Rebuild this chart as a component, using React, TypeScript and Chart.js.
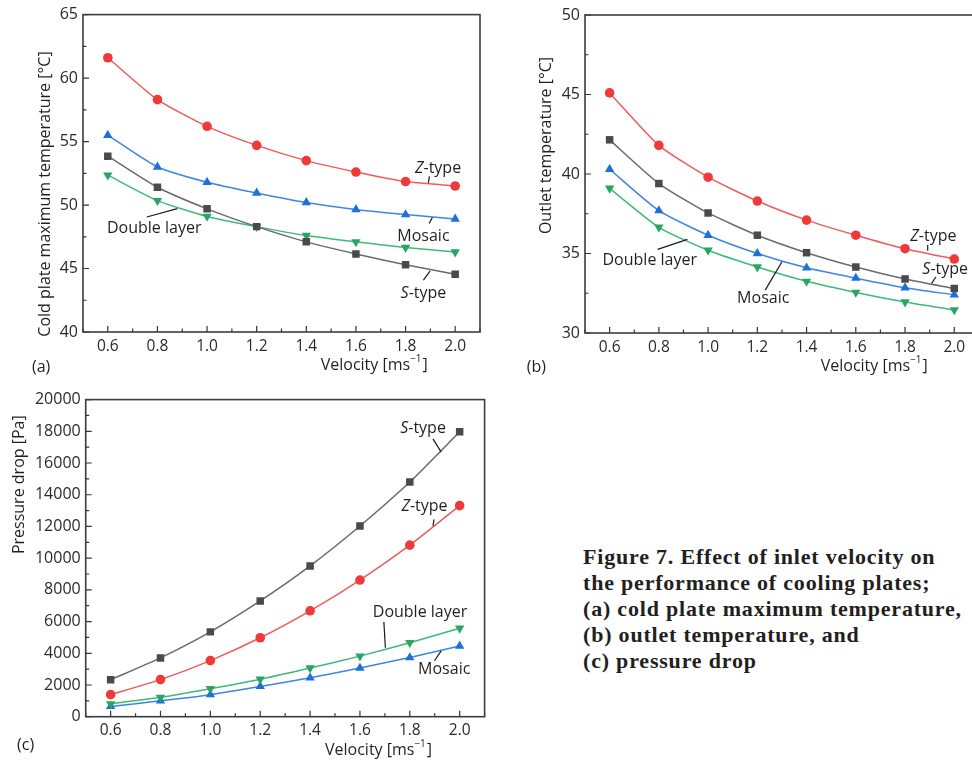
import React, { useEffect, useRef } from 'react';
import { Chart, registerables } from 'chart.js';
Chart.register(...registerables);

// ---------- data ----------
const VELOCITY = [0.6, 0.8, 1.0, 1.2, 1.4, 1.6, 1.8, 2.0];
const X_TICK_LABELS = [0.6, 0.8, 1.0, 1.2, 1.4, 1.6, 1.8, 2.0];

// (a) cold plate maximum temperature [°C]
const A_Z = [61.6, 58.3, 56.2, 54.7, 53.5, 52.6, 51.85, 51.5];
const A_MOSAIC = [55.5, 53.0, 51.8, 50.95, 50.2, 49.65, 49.25, 48.9];
const A_S = [53.85, 51.4, 49.7, 48.3, 47.1, 46.15, 45.3, 44.55];
const A_DOUBLE = [52.35, 50.35, 49.1, 48.3, 47.6, 47.1, 46.65, 46.3];

// (b) outlet temperature [°C]
const B_Z = [45.1, 41.8, 39.8, 38.3, 37.1, 36.15, 35.3, 34.65];
const B_S = [42.15, 39.4, 37.55, 36.15, 35.05, 34.15, 33.4, 32.8];
const B_MOSAIC = [40.3, 37.7, 36.15, 35.0, 34.1, 33.45, 32.85, 32.4];
const B_DOUBLE = [39.1, 36.65, 35.2, 34.15, 33.25, 32.55, 31.95, 31.45];

// (c) pressure drop [Pa]
const C_S = [2330, 3710, 5350, 7300, 9510, 12030, 14800, 17970];
const C_Z = [1390, 2340, 3540, 4980, 6680, 8620, 10820, 13310];
const C_DOUBLE = [810, 1220, 1760, 2360, 3070, 3820, 4670, 5580];
const C_MOSAIC = [650, 1000, 1390, 1910, 2450, 3070, 3730, 4460];

const CAPTION = [
  'Figure 7. Effect of inlet velocity on',
  'the performance of cooling plates;',
  '(a) cold plate maximum temperature,',
  '(b) outlet temperature, and',
  '(c) pressure drop',
];

// ---------- styles ----------
const FONT = '"Open Sans", "Noto Sans", sans-serif';
const TEXT = '#231f20';

const STYLE = {
  z: { line: '#f25a5a', point: '#f03a3a', pointStyle: 'circle', radius: 4.8, rotation: 0 },
  mosaic: { line: '#3d85e6', point: '#1e6fd9', pointStyle: 'triangle', radius: 5.4, rotation: 0 },
  s: { line: '#6a6a6a', point: '#4a4a4a', pointStyle: 'rect', radius: 5.3, rotation: 0 },
  dbl: { line: '#3dba78', point: '#2aa366', pointStyle: 'triangle', radius: 5.4, rotation: 180 },
};

type Seg = { t: string; italic?: boolean; sup?: boolean };
const ZT: Seg[] = [{ t: 'Z', italic: true }, { t: '-type' }];
const ST: Seg[] = [{ t: 'S', italic: true }, { t: '-type' }];
const MO: Seg[] = [{ t: 'Mosaic' }];
const DL: Seg[] = [{ t: 'Double layer' }];
const VEL: Seg[] = [{ t: 'Velocity [ms' }, { t: '−1', sup: true }, { t: ']' }];

function segFont(s: Seg, size: number) {
  return `${s.italic ? 'italic ' : ''}${s.sup ? size * 0.62 : size}px ${FONT}`;
}

function drawRich(ctx: CanvasRenderingContext2D, segs: Seg[], x: number, y: number, size: number, align: 'left' | 'center') {
  const widths = segs.map((s) => {
    ctx.font = segFont(s, size);
    return ctx.measureText(s.t).width;
  });
  const total = widths.reduce((a, b) => a + b, 0);
  let cx = align === 'center' ? x - total / 2 : x;
  ctx.textAlign = 'left';
  ctx.textBaseline = 'middle';
  segs.forEach((s, i) => {
    ctx.font = segFont(s, size);
    ctx.fillText(s.t, cx, s.sup ? y - size * 0.38 : y);
    cx += widths[i] + (s.sup ? 1 : 0);
  });
}

const framePlugin = {
  id: 'frame',
  afterDatasetsDraw(chart: any, _args: any, o: any) {
    const { ctx, chartArea: a, scales } = chart;
    const xs = scales.x;
    const ys = scales.y;
    ctx.save();
    // ticks (inward)
    ctx.strokeStyle = '#333';
    ctx.lineWidth = 1.2;
    ctx.beginPath();
    for (let k = 0; k <= 16; k++) {
      const v = 0.5 + k * 0.1;
      const major = k % 2 === 1;
      const px = xs.getPixelForValue(v);
      ctx.moveTo(px, a.bottom);
      ctx.lineTo(px, a.bottom - (major ? 6 : 3.5));
    }
    const n = Math.round((o.yMax - o.yMin) / o.yMinor);
    for (let k = 0; k <= n; k++) {
      const v = o.yMin + k * o.yMinor;
      const major = k % 2 === 0;
      const py = ys.getPixelForValue(v);
      ctx.moveTo(a.left, py);
      ctx.lineTo(a.left + (major ? 6 : 3.5), py);
    }
    ctx.stroke();
    // frame
    ctx.strokeStyle = '#3c3c3c';
    ctx.lineWidth = 1.6;
    ctx.strokeRect(a.left, a.top, a.right - a.left, a.bottom - a.top);

    ctx.fillStyle = TEXT;
    // annotations
    ctx.strokeStyle = '#1a1a1a';
    ctx.lineWidth = 1.2;
    o.notes.forEach((nt: any) => {
      drawRich(ctx, nt.segs, xs.getPixelForValue(nt.x), ys.getPixelForValue(nt.y), 16, 'center');
      ctx.beginPath();
      ctx.moveTo(xs.getPixelForValue(nt.line[0]), ys.getPixelForValue(nt.line[1]));
      ctx.lineTo(xs.getPixelForValue(nt.line[2]), ys.getPixelForValue(nt.line[3]));
      ctx.stroke();
    });
    // axis titles
    drawRich(ctx, VEL, o.xTitle.x, o.xTitle.y, 16, 'left');
    ctx.save();
    ctx.translate(o.yTitle.x, o.yTitle.y);
    ctx.rotate(-Math.PI / 2);
    drawRich(ctx, [{ t: o.yTitle.text }], 0, 0, 16, 'center');
    ctx.restore();
    // panel label
    drawRich(ctx, [{ t: o.label.text }], o.label.x, o.label.y, 16, 'left');
    ctx.restore();
  },
};

function makeSeries(label: string, values: number[], st: any) {
  return {
    label,
    data: VELOCITY.map((v, i) => ({ x: v, y: values[i] })),
    borderColor: st.line,
    backgroundColor: st.point,
    pointBackgroundColor: st.point,
    pointBorderColor: st.point,
    pointBorderWidth: 0,
    pointStyle: st.pointStyle,
    pointRadius: st.radius,
    pointRotation: st.rotation,
    borderWidth: 1.5,
    tension: 0.2,
    fill: false,
  };
}

function buildConfig(p: any): any {
  return {
    type: 'line',
    data: { datasets: p.series },
    plugins: [framePlugin],
    options: {
      responsive: false,
      animation: false,
      devicePixelRatio: 1,
      layout: { padding: { left: 0, top: p.padTop, right: p.padRight, bottom: 0 } },
      plugins: {
        legend: { display: false },
        tooltip: { enabled: false },
        frame: {
          yMin: p.yMin,
          yMax: p.yMax,
          yMinor: p.yMinor,
          notes: p.notes,
          xTitle: p.xTitle,
          yTitle: p.yTitle,
          label: p.label,
        },
      },
      scales: {
        x: {
          type: 'linear',
          min: 0.5,
          max: 2.1,
          grid: { display: false, drawTicks: false },
          border: { display: false },
          afterBuildTicks: (s: any) => {
            s.ticks = X_TICK_LABELS.map((v) => ({ value: v }));
          },
          afterFit: (s: any) => {
            s.height = p.xHeight;
          },
          ticks: {
            callback: (v: any) => Number(v).toFixed(1),
            font: { family: FONT, size: 15.5 },
            color: '#2a2a2a',
            padding: 5,
            maxRotation: 0,
            autoSkip: false,
          },
        },
        y: {
          type: 'linear',
          min: p.yMin,
          max: p.yMax,
          grid: { display: false, drawTicks: false },
          border: { display: false },
          afterFit: (s: any) => {
            s.width = p.yWidth;
          },
          ticks: {
            stepSize: p.yStep,
            callback: (v: any) => String(v),
            font: { family: FONT, size: 16 },
            color: '#2a2a2a',
            padding: 5,
          },
        },
      },
    },
  };
}

const PANEL_A = {
  pos: { left: 0, top: 0, w: 490, h: 380 },
  padTop: 14,
  padRight: 10,
  yWidth: 83,
  xHeight: 48,
  yMin: 40,
  yMax: 65,
  yStep: 5,
  yMinor: 2.5,
  series: [
    makeSeries('Z-type', A_Z, STYLE.z),
    makeSeries('Mosaic', A_MOSAIC, STYLE.mosaic),
    makeSeries('S-type', A_S, STYLE.s),
    makeSeries('Double layer', A_DOUBLE, STYLE.dbl),
  ],
  yTitle: { text: 'Cold plate maximum temperature [°C]', x: 45, y: 194 },
  xTitle: { x: 320.7, y: 365 },
  label: { text: '(a)', x: 32, y: 367 },
  notes: [
    { segs: ZT, x: 1.931, y: 52.92, line: [1.896, 52.26, 1.892, 51.74] },
    { segs: MO, x: 1.872, y: 47.49, line: [1.908, 49.02, 1.895, 48.55] },
    { segs: ST, x: 1.872, y: 43.04, line: [1.899, 44.82, 1.872, 44.09] },
    { segs: DL, x: 0.787, y: 48.15, line: [0.757, 49.06, 0.88, 49.72] },
  ],
};

const PANEL_B = {
  pos: { left: 490, top: 0, w: 500, h: 380 },
  padTop: 15,
  padRight: 11.1,
  yWidth: 95,
  xHeight: 47,
  yMin: 30,
  yMax: 50,
  yStep: 5,
  yMinor: 2.5,
  series: [
    makeSeries('Z-type', B_Z, STYLE.z),
    makeSeries('S-type', B_S, STYLE.s),
    makeSeries('Mosaic', B_MOSAIC, STYLE.mosaic),
    makeSeries('Double layer', B_DOUBLE, STYLE.dbl),
  ],
  yTitle: { text: 'Outlet temperature [°C]', x: 56, y: 145.5 },
  xTitle: { x: 330.7, y: 366 },
  label: { text: '(b)', x: 36.7, y: 367 },
  notes: [
    { segs: ZT, x: 1.915, y: 36.1, line: [1.892, 35.53, 1.892, 35.18] },
    { segs: ST, x: 1.963, y: 34.01, line: [1.926, 33.54, 1.908, 33.12] },
    { segs: DL, x: 0.763, y: 34.55, line: [0.795, 35.26, 0.916, 35.89] },
    { segs: MO, x: 1.224, y: 32.18, line: [1.232, 32.7, 1.3, 34.48] },
  ],
};

const PANEL_C = {
  pos: { left: 0, top: 385, w: 490, h: 375 },
  padTop: 10,
  padRight: 5,
  yWidth: 85.7,
  xHeight: 43.3,
  yMin: 0,
  yMax: 20000,
  yStep: 2000,
  yMinor: 1000,
  series: [
    makeSeries('S-type', C_S, STYLE.s),
    makeSeries('Z-type', C_Z, STYLE.z),
    makeSeries('Double layer', C_DOUBLE, STYLE.dbl),
    makeSeries('Mosaic', C_MOSAIC, STYLE.mosaic),
  ],
  yTitle: { text: 'Pressure drop [Pa]', x: 19, y: 99.7 },
  xTitle: { x: 325, y: 365.7 },
  label: { text: '(c)', x: 17, y: 360 },
  notes: [
    { segs: ST, x: 1.853, y: 18180, line: [1.893, 17520, 1.926, 16690] },
    { segs: ZT, x: 1.859, y: 13270, line: [1.897, 12440, 1.893, 12030] },
    { segs: DL, x: 1.841, y: 6570, line: [1.696, 5970, 1.702, 4350] },
    { segs: MO, x: 1.938, y: 2950, line: [1.899, 3530, 1.926, 4150] },
  ],
};

function Panel({ spec }: { spec: any }) {
  const ref = useRef<HTMLCanvasElement>(null);
  useEffect(() => {
    if (!ref.current) return;
    const chart = new Chart(ref.current, buildConfig(spec));
    return () => chart.destroy();
  }, [spec]);
  const { left, top, w, h } = spec.pos;
  return (
    <div style={{ position: 'absolute', left, top, width: w, height: h }}>
      <canvas ref={ref} width={w} height={h} style={{ width: w, height: h, display: 'block' }} />
    </div>
  );
}

export default function App() {
  return (
    <div
      style={{
        position: 'absolute',
        left: 0,
        top: 0,
        width: 972,
        height: 760,
        overflow: 'hidden',
        background: '#fff',
      }}
    >
      <Panel spec={PANEL_A} />
      <Panel spec={PANEL_B} />
      <Panel spec={PANEL_C} />
      <div
        style={{
          position: 'absolute',
          left: 583,
          top: 543.6,
          font: 'bold 22px "Liberation Serif", "Times New Roman", serif',
          lineHeight: '26px',
          letterSpacing: '0.8px',
          color: TEXT,
          whiteSpace: 'nowrap',
        }}
      >
        {CAPTION.map((c, i) => (
          <div key={i}>{c}</div>
        ))}
      </div>
    </div>
  );
}
